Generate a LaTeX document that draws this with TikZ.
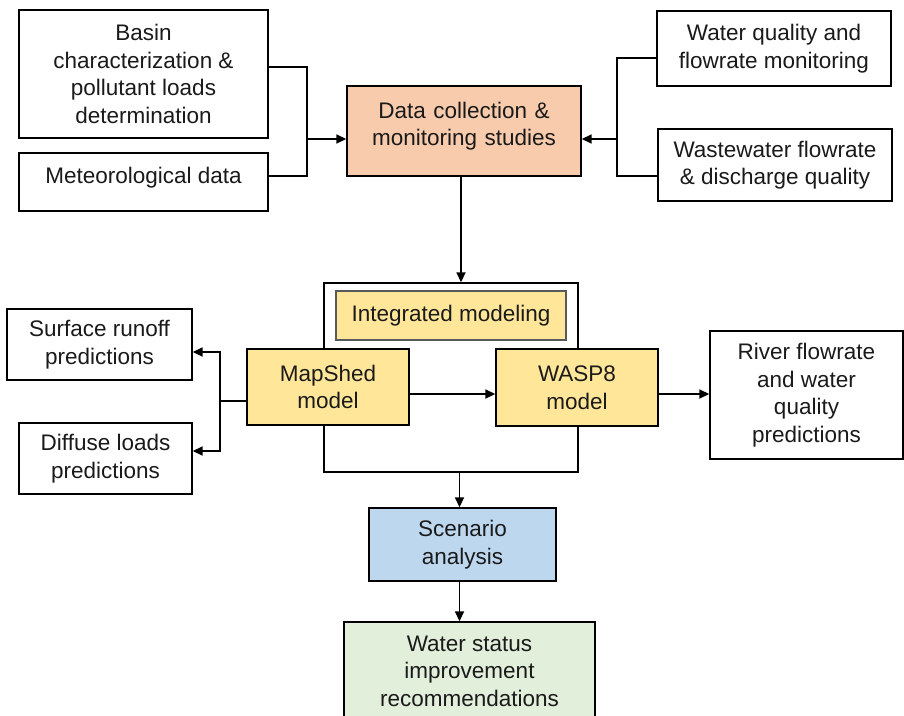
\documentclass[tikz,border=0pt]{standalone}
\usepackage{fontspec}
\setmainfont{Liberation Sans}
\usetikzlibrary{arrows.meta}
\definecolor{peach}{HTML}{F8CBAD}
\definecolor{ylw}{HTML}{FFE699}
\definecolor{lblue}{HTML}{BDD7EE}
\definecolor{lgreen}{HTML}{E2EFDA}
\definecolor{txt}{HTML}{1A1A1A}
\newcommand\diafont{\fontsize{22.5}{27.5}\selectfont}
\begin{document}
\begin{tikzpicture}[x=1pt,y=-1pt,
  box/.style={draw=black, line width=1.4pt, align=center, inner sep=0pt, font=\diafont, text=txt},
  conn/.style={line width=1.7pt, draw=black},
  arr/.style={conn, -{Triangle[length=10pt,width=9pt]}}]
\useasboundingbox (0,0) rectangle (904,715);
\clip (0,0) rectangle (904,715);
\fill[white] (0,0) rectangle (904,715);

% frame behind the models
\node[box, minimum width=254pt, minimum height=189pt] (frame) at (451,377.5) {};

% top row
\node[box, minimum width=249pt, minimum height=128pt] (basin) at (143.5,74)
  {Basin\\characterization \&\\pollutant loads\\determination};
\node[box, minimum width=249pt, minimum height=58pt, text height=30pt, text depth=28pt] (met) at (143.5,182)
  {Meteorological data};
\node[box, fill=peach, text width=234pt, minimum height=90pt, text height=32pt, text depth=58pt] (data) at (464,131)
  {Data collection \&\\monitoring studies};
\node[box, minimum width=234pt, minimum height=75pt] (wq) at (774,48.5)
  {Water quality and\\flowrate monitoring};
\node[box, minimum width=234pt, minimum height=72pt] (ww) at (775,165)
  {Wastewater flowrate\\\& discharge quality};

% modelling
\node[box, draw=black!65, fill=ylw, minimum width=230pt, minimum height=49pt] (integ) at (451,315.5)
  {Integrated modeling};
\node[box, fill=ylw, minimum width=162pt, minimum height=76pt] (ms) at (328,387)
  {MapShed\\model};
\node[box, fill=ylw, minimum width=162pt, minimum height=77pt] (wasp) at (577,387.5)
  {WASP8\\model};
\node[box, minimum width=185pt, minimum height=71pt] (sr) at (99.5,344.5)
  {Surface runoff\\predictions};
\node[box, minimum width=173pt, minimum height=71pt] (dl) at (105.5,458.5)
  {Diffuse loads\\predictions};
\node[box, minimum width=193pt, minimum height=128pt] (river) at (806.5,395)
  {River flowrate\\and water\\quality\\predictions};

% bottom
\node[box, fill=lblue, minimum width=187pt, minimum height=73pt] (scen) at (462.5,544.5)
  {Scenario\\analysis};
\node[box, fill=lgreen, minimum width=251pt, minimum height=98pt] (ws) at (469.5,671)
  {Water status\\improvement\\recommendations};

% connectors
\coordinate (jl) at (307,139);
\draw[conn] ([yshift=7pt]basin.east) -| (jl) |- ([yshift=6pt]met.east);
\draw[arr] (jl) -- (jl -| data.west);

\coordinate (jr) at (617,139);
\draw[conn] ([yshift=-9.5pt]wq.west) -| (jr) |- ([yshift=-11pt]ww.west);
\draw[arr] (jr) -- (jr -| data.east);

\draw[arr] ([xshift=-3pt]data.south) -- ([xshift=-3pt]data.south |- frame.north);

\draw[arr] ([yshift=-7pt]ms.east) -- ([yshift=-7pt]ms.east -| wasp.west);
\draw[arr] ([yshift=-6.5pt]wasp.east) -- ([yshift=-6.5pt]wasp.east -| river.west);

\coordinate (jm) at (220,401);
\draw[conn] ([yshift=-14pt]ms.west) -- (jm);
\draw[arr] (jm) |- ([yshift=-7.5pt]sr.east);
\draw[arr] (jm) |- ([yshift=7.5pt]dl.east);

\draw[arr] ([xshift=-3pt]scen.north |- frame.south) -- ([xshift=-3pt]scen.north);
\draw[arr] ([xshift=-3pt]scen.south) -- ([xshift=-3pt]scen.south |- ws.north);
\end{tikzpicture}
\end{document}
